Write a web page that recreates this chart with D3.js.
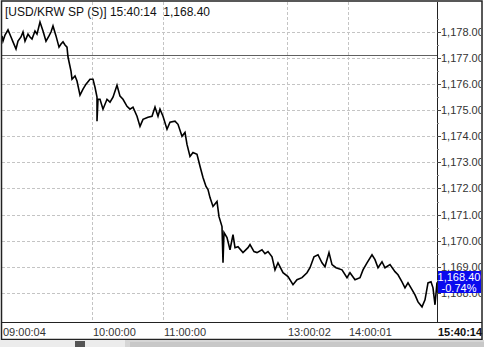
<!DOCTYPE html>
<html>
<head>
<meta charset="utf-8">
<script src="https://cdn.jsdelivr.net/npm/d3@7"></script>
<style>
  body { margin: 0; background: #fff; }
  svg { display: block; }
  text { font-family: "Liberation Sans", Arial, sans-serif; }
</style>
</head>
<body>
<svg id="chart"></svg>
<script>
const WIDTH = 484;
const HEIGHT = 347;
const PLOT = {left: 2, right: 437, top: 2, bottom: 322};

// bar number of each sample (tick chart, not clock time)
const bars = [0, 1, 3, 6, 9, 11, 14, 16, 19, 21, 23, 26, 28, 30, 33, 35, 38, 41, 44, 47,
  49, 51, 54, 57, 59, 61, 63, 65, 66, 69, 70, 73, 75, 78, 81, 84, 88, 91, 93, 95,
  95, 96, 98, 101, 105, 108, 111, 115, 118, 121, 125, 128, 131, 135, 138, 141, 146, 150, 153, 156,
  158, 161, 165, 168, 173, 176, 180, 183, 185, 188, 191, 195, 198, 201, 204, 206, 208, 211, 215, 217,
  220, 221, 222, 225, 228, 231, 233, 236, 241, 246, 248, 252, 255, 260, 263, 266, 270, 273, 276, 281,
  286, 291, 295, 300, 305, 308, 312, 316, 320, 323, 327, 330, 334, 340, 345, 348, 353, 358, 361, 365,
  370, 373, 376, 380, 383, 388, 393, 396, 400, 403, 406, 410, 413, 416, 420, 423, 426, 429, 431, 433,
  435];

const prices = [1177.85, 1177.65, 1177.88, 1178.08, 1177.81, 1177.62, 1177.35, 1177.65, 1177.81, 1178.00,
  1177.65, 1177.92, 1177.81, 1177.73, 1178.04, 1177.92, 1178.38, 1178.04, 1177.65, 1177.85,
  1178.00, 1178.23, 1177.85, 1177.42, 1177.54, 1177.62, 1177.50, 1177.42, 1177.04, 1176.50,
  1176.19, 1176.31, 1176.12, 1175.58, 1175.81, 1176.00, 1176.19, 1176.19, 1175.88, 1175.50,
  1174.58, 1175.42, 1175.42, 1175.04, 1175.42, 1175.31, 1175.50, 1175.96, 1175.54, 1175.42,
  1175.15, 1175.04, 1175.12, 1174.77, 1174.38, 1174.65, 1174.73, 1174.77, 1175.12, 1174.77,
  1175.04, 1174.77, 1174.27, 1174.54, 1174.58, 1174.46, 1174.00, 1174.15, 1173.69, 1173.23,
  1173.38, 1173.31, 1172.85, 1172.42, 1172.08, 1171.96, 1171.65, 1171.31, 1171.50, 1170.92,
  1170.54, 1169.15, 1170.31, 1170.12, 1169.65, 1170.23, 1169.73, 1169.77, 1169.54, 1169.73,
  1169.85, 1169.58, 1169.54, 1169.65, 1169.50, 1169.58, 1169.38, 1168.88, 1169.15, 1168.77,
  1168.62, 1168.31, 1168.50, 1168.58, 1168.77, 1168.96, 1169.38, 1169.46, 1169.15, 1169.00,
  1169.54, 1169.08, 1168.96, 1168.88, 1168.58, 1168.77, 1168.50, 1168.58, 1168.88, 1169.15,
  1169.46, 1169.27, 1168.96, 1169.19, 1168.96, 1169.08, 1168.81, 1168.69, 1168.42, 1168.19,
  1168.38, 1168.12, 1167.92, 1167.65, 1167.46, 1167.73, 1168.38, 1168.42, 1168.19, 1167.54,
  1168.40];

const priceTicks = [1178, 1177, 1176, 1175, 1174, 1173, 1172, 1171, 1170, 1169, 1168];
const timeLabels = ["09:00:04", "10:00:00", "11:00:00", "13:00:02", "14:00:01"];
const timeBars = [0, 90, 161, 285, 346];
const lastTime = "15:40:14";
const prevClose = 1177.11;
const lastPrice = 1168.40;
const changePct = -0.74;

const fmt = d3.format(",.2f");

const svg = d3.select('#chart')
  .attr('width', WIDTH)
  .attr('height', HEIGHT);

svg.append('rect').attr('width', WIDTH).attr('height', HEIGHT).attr('fill', '#fff');

const x = d3.scaleLinear().domain([0, 435]).range([PLOT.left, PLOT.right]);
const y = d3.scaleLinear().domain([1166.88, 1179.15]).range([PLOT.bottom, PLOT.top]);

const defs = svg.append('defs');
defs.append('clipPath').attr('id', 'clip-axis')
  .append('rect').attr('x', 0).attr('y', 0).attr('width', 481).attr('height', 339);

const boxY = Math.round(y(lastPrice)) - 11;
// part of the axis column not covered by the last price box
defs.append('clipPath').attr('id', 'clip-under-box')
  .append('rect').attr('x', 0).attr('y', boxY + 22).attr('width', 481).attr('height', 339 - boxY - 22);

// dashed grid
svg.append('g').selectAll('line.h')
  .data(priceTicks)
  .enter().append('line')
  .attr('x1', PLOT.left).attr('x2', PLOT.right)
  .attr('y1', d => Math.round(y(d)) + 0.5).attr('y2', d => Math.round(y(d)) + 0.5)
  .attr('stroke', '#c4c4c4').attr('stroke-dasharray', '3,2');

svg.append('g').selectAll('line.v')
  .data(timeBars.slice(1))
  .enter().append('line')
  .attr('x1', d => Math.round(x(d)) + 0.5).attr('x2', d => Math.round(x(d)) + 0.5)
  .attr('y1', PLOT.top).attr('y2', PLOT.bottom)
  .attr('stroke', '#c4c4c4').attr('stroke-dasharray', '3,2');

// previous close
svg.append('line')
  .attr('x1', PLOT.left).attr('x2', PLOT.right)
  .attr('y1', Math.round(y(prevClose)) + 0.5).attr('y2', Math.round(y(prevClose)) + 0.5)
  .attr('stroke', '#606060');

// price line
const line = d3.line()
  .x((d, i) => x(bars[i]))
  .y(d => y(d));

svg.append('path')
  .datum(prices)
  .attr('d', line)
  .attr('fill', 'none')
  .attr('stroke', '#000')
  .attr('stroke-width', 1.6)
  .attr('stroke-linejoin', 'miter');

// right axis
const axisG = svg.append('g').attr('clip-path', 'url(#clip-axis)');
axisG.append('line')
  .attr('x1', PLOT.right + 0.5).attr('x2', PLOT.right + 0.5)
  .attr('y1', PLOT.top).attr('y2', PLOT.bottom)
  .attr('stroke', '#222');

axisG.selectAll('line.tick')
  .data(priceTicks)
  .enter().append('line')
  .attr('x1', PLOT.right).attr('x2', PLOT.right + 4)
  .attr('y1', d => Math.round(y(d)) + 0.5).attr('y2', d => Math.round(y(d)) + 0.5)
  .attr('stroke', '#444');

axisG.selectAll('line.minor')
  .data(priceTicks.map(d => d + 0.5))
  .enter().append('line')
  .attr('x1', PLOT.right).attr('x2', PLOT.right + 2)
  .attr('y1', d => Math.round(y(d)) + 0.5).attr('y2', d => Math.round(y(d)) + 0.5)
  .attr('stroke', '#888');

axisG.selectAll('text.ytick')
  .data(priceTicks.filter(d => d > lastPrice))
  .enter().append('text')
  .attr('x', PLOT.right + 4)
  .attr('y', d => y(d) + 4)
  .attr('font-size', 11)
  .attr('fill', '#333')
  .text(d => fmt(d));

// ticks hidden behind the box only show their lower edge
svg.append('g').attr('clip-path', 'url(#clip-under-box)')
  .selectAll('text')
  .data(priceTicks.filter(d => d < lastPrice))
  .enter().append('text')
  .attr('x', PLOT.right + 4)
  .attr('y', d => y(d) + 4)
  .attr('font-size', 11)
  .attr('fill', '#333')
  .text(d => fmt(d));

// last price box
axisG.append('rect')
  .attr('x', PLOT.right + 1).attr('y', boxY)
  .attr('width', 44).attr('height', 22)
  .attr('fill', '#0a0aee');
axisG.append('text')
  .attr('x', 459).attr('y', boxY + 10)
  .attr('text-anchor', 'middle').attr('font-size', 11).attr('fill', '#fff')
  .text(fmt(lastPrice));
axisG.append('text')
  .attr('x', 459).attr('y', boxY + 21)
  .attr('text-anchor', 'middle').attr('font-size', 11).attr('fill', '#fff')
  .text(changePct.toFixed(2) + '%');

// bottom axis
svg.append('line')
  .attr('x1', PLOT.left).attr('x2', 482)
  .attr('y1', PLOT.bottom + 0.5).attr('y2', PLOT.bottom + 0.5)
  .attr('stroke', '#222');

svg.append('g').selectAll('text.xtick')
  .data(timeLabels)
  .enter().append('text')
  .attr('x', (d, i) => x(timeBars[i]) + 1)
  .attr('y', 336)
  .attr('font-size', 11)
  .attr('fill', '#333')
  .text(d => d);

svg.append('text')
  .attr('x', PLOT.right + 1).attr('y', 336)
  .attr('font-size', 11).attr('font-weight', 'bold').attr('fill', '#111')
  .text(lastTime);

// title
svg.append('text')
  .attr('x', 5).attr('y', 16)
  .attr('font-size', 12).attr('fill', '#111')
  .style('white-space', 'pre')
  .text('[USD/KRW SP (S)] ' + lastTime + '  ' + fmt(lastPrice));

// frame
svg.append('rect')
  .attr('x', 1.5).attr('y', 1).attr('width', 480.5).attr('height', 338.5)
  .attr('fill', 'none').attr('stroke', '#222').attr('stroke-width', 1.5);

// status strip
svg.append('rect').attr('x', 0).attr('y', 340).attr('width', WIDTH).attr('height', 7).attr('fill', '#d6d6d6');
svg.append('rect').attr('x', 0).attr('y', 340).attr('width', 125).attr('height', 7).attr('fill', '#ececec');
svg.append('rect').attr('x', 75).attr('y', 341).attr('width', 10).attr('height', 6).attr('fill', '#555');
svg.append('rect').attr('x', 130).attr('y', 342).attr('width', 354).attr('height', 5).attr('fill', '#c8c8c8');
</script>
</body>
</html>
